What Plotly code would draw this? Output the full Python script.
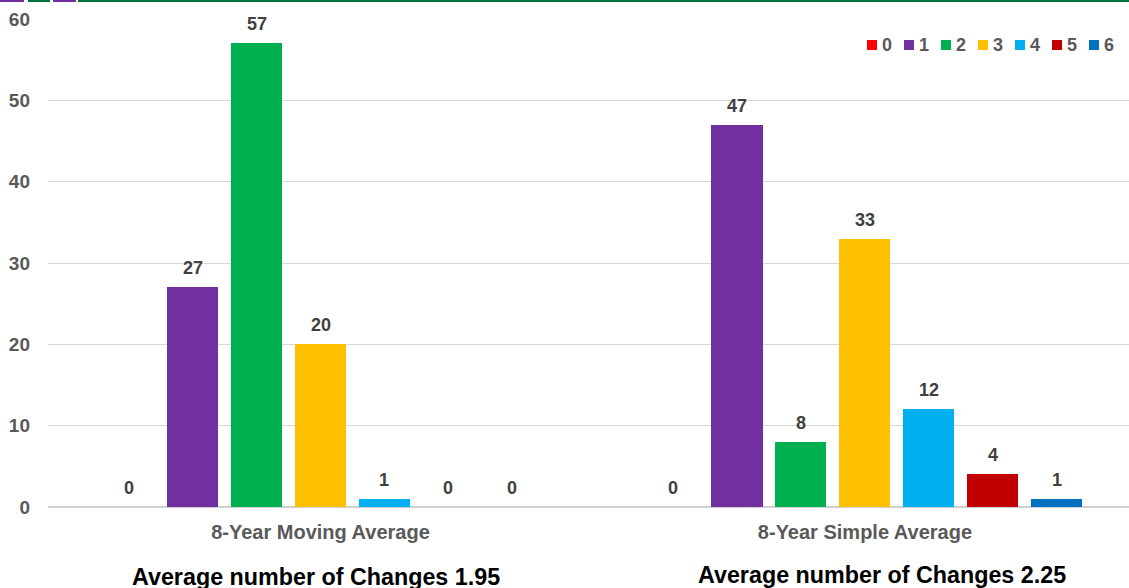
import plotly.graph_objects as go

categories = ["8-Year Moving Average", "8-Year Simple Average"]
series_names = ["0", "1", "2", "3", "4", "5", "6"]
colors = ["#FF0000", "#7030A0", "#00B050", "#FFC000", "#00B0F0", "#C00000", "#0070C0"]
values = {
    "0": [0, 0],
    "1": [27, 47],
    "2": [57, 8],
    "3": [20, 33],
    "4": [1, 12],
    "5": [0, 4],
    "6": [0, 1],
}
averages = ["Average number of Changes 1.95", "Average number of Changes 2.25"]
y_ticks = [0, 10, 20, 30, 40, 50, 60]

FONT = "Liberation Sans, Arial, sans-serif"
n = len(series_names)
step = 0.1175
bar_w = 0.0937

W, H = 1129, 588
t_m, b_m, l_m, r_m = 19, 81, 48, 0
ph = H - t_m - b_m
pw = W - l_m - r_m
def px_to_paper_x(px):
    return (px - l_m) / pw
def px_to_paper_y(py):
    return (H - b_m - py) / ph

fig = go.Figure()
annotations = []
for i, name in enumerate(series_names):
    xs = [g + (i - (n - 1) / 2) * step for g in range(len(categories))]
    fig.add_trace(go.Bar(
        x=xs, y=values[name], width=bar_w, name=name,
        marker=dict(color=colors[i], line=dict(width=0)),
        showlegend=False, hoverinfo="y",
    ))
    for x, v in zip(xs, values[name]):
        annotations.append(dict(
            x=x, y=v, xref="x", yref="y", text=f"<b>{v}</b>", showarrow=False,
            yanchor="middle", yshift=19,
            font=dict(family=FONT, size=18, color="#404040"),
        ))

title_pos = [(316, 577), (882, 575)]
for (px, py), t in zip(title_pos, averages):
    annotations.append(dict(
        x=px_to_paper_x(px), y=px_to_paper_y(py), xref="paper", yref="paper",
        text=f"<b>{t}</b>", showarrow=False, xanchor="center", yanchor="middle",
        font=dict(family=FONT, size=23.3, color="#000000"),
    ))

shapes = []
leg_x0 = 867
leg_step = 37
leg_y = 45
for i, name in enumerate(series_names):
    sx = leg_x0 + i * leg_step
    shapes.append(dict(
        type="rect", xref="paper", yref="paper",
        x0=px_to_paper_x(sx), x1=px_to_paper_x(sx + 10),
        y0=px_to_paper_y(leg_y + 5), y1=px_to_paper_y(leg_y - 5),
        fillcolor=colors[i], line=dict(width=0),
    ))
    annotations.append(dict(
        x=px_to_paper_x(sx + 13), y=px_to_paper_y(leg_y), xref="paper", yref="paper",
        text=f"<b>{name}</b>", showarrow=False, xanchor="left", yanchor="middle",
        font=dict(family=FONT, size=18, color="#595959"),
    ))

for (a, b, c) in [(0, 24, "#7030A0"), (28, 50, "#00703C"), (53, 76, "#7030A0"), (78, 1129, "#00703C")]:
    shapes.append(dict(
        type="rect", xref="paper", yref="paper",
        x0=px_to_paper_x(a), x1=px_to_paper_x(b),
        y0=px_to_paper_y(2), y1=px_to_paper_y(0),
        fillcolor=c, line=dict(width=0),
    ))

fig.update_layout(
    width=W, height=H,
    margin=dict(l=l_m, r=r_m, t=t_m, b=b_m),
    plot_bgcolor="white", paper_bgcolor="white",
    showlegend=False,
    annotations=annotations, shapes=shapes,
    xaxis=dict(
        range=[-0.5005, 1.485], tickvals=list(range(len(categories))),
        ticktext=[f"<b>{c}</b>" for c in categories],
        showgrid=False, zeroline=False, showline=False, ticks="",
        tickfont=dict(family=FONT, size=20, color="#595959"),
        ticklabelstandoff=11,
    ),
    yaxis=dict(
        range=[0, 60], tickvals=y_ticks, ticktext=[f"<b>{t}</b>" for t in y_ticks],
        showgrid=True, gridcolor="#D9D9D9", gridwidth=1,
        zeroline=True, zerolinecolor="#D0D0D0", zerolinewidth=2, showline=False, ticks="",
        tickfont=dict(family=FONT, size=19, color="#595959"),
        ticklabelstandoff=17,
    ),
    bargap=0,
)

fig.write_html("out.html")
